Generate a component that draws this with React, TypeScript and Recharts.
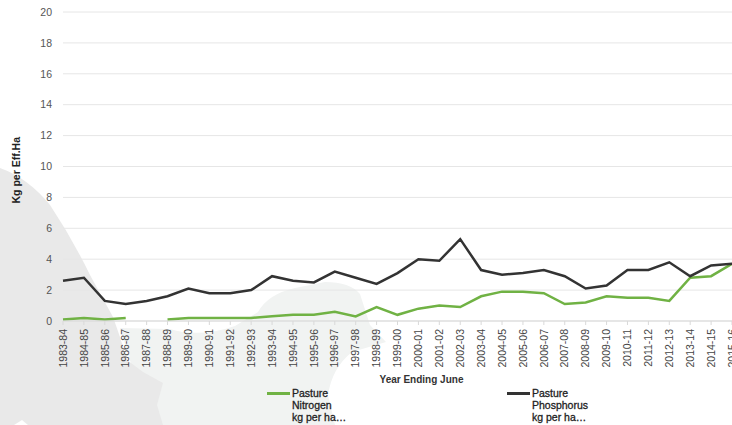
import React from 'react';
import { LineChart, Line, XAxis, YAxis, CartesianGrid, Legend } from 'recharts';

const YEARS = [
  '1983-84', '1984-85', '1985-86', '1986-87', '1987-88', '1988-89', '1989-90', '1990-91', '1991-92', '1992-93', '1993-94',
  '1994-95', '1995-96', '1996-97', '1997-98', '1998-99', '1999-00', '2000-01', '2001-02', '2002-03', '2003-04', '2004-05',
  '2005-06', '2006-07', '2007-08', '2008-09', '2009-10', '2010-11', '2011-12', '2012-13', '2013-14', '2014-15', '2015-16',
];
const NITROGEN = [
  0.1, 0.2, 0.1, 0.2, null, 0.1, 0.2, 0.2, 0.2, 0.2, 0.3, 0.4, 0.4, 0.6, 0.3, 0.9, 0.4, 0.8, 1.0, 0.9, 1.6, 1.9, 1.9, 1.8,
  1.1, 1.2, 1.6, 1.5, 1.5, 1.3, 2.8, 2.9, 3.7,
];
const PHOSPHORUS = [
  2.6, 2.8, 1.3, 1.1, 1.3, 1.6, 2.1, 1.8, 1.8, 2.0, 2.9, 2.6, 2.5, 3.2, 2.8, 2.4, 3.1, 4.0, 3.9, 5.3, 3.3, 3.0, 3.1, 3.3,
  2.9, 2.1, 2.3, 3.3, 3.3, 3.8, 2.9, 3.6, 3.7,
];
const Y_TICKS = [0, 2, 4, 6, 8, 10, 12, 14, 16, 18, 20];

const GREEN = '#70b244';
const DARK = '#333333';
const FONT = '"Liberation Sans", Arial, sans-serif';

const data = YEARS.map((year, i) => ({ year, nitrogen: NITROGEN[i], phosphorus: PHOSPHORUS[i] }));

const YearTick = ({ x, y, payload }: any) => (
  <g transform={`translate(${x},${y})`}>
    <text transform="rotate(-90)" textAnchor="end" dy={3.7} fill="#444" fontSize={10.5} fontFamily={FONT}>
      {payload.value}
    </text>
  </g>
);

const legendItem = (left: number, color: string, lines: string[]) => (
  <div key={lines[1]} style={{ position: 'absolute', left, top: 6 }}>
    <div style={{ position: 'absolute', left: 0, top: 5, width: 23, height: 3, background: color }} />
    <div style={{ position: 'absolute', left: 25, top: 0, fontSize: 10.5, lineHeight: '12px', color: '#222', whiteSpace: 'nowrap', WebkitTextStroke: '0.3px #222' }}>
      {lines.map((t) => (
        <div key={t}>{t}</div>
      ))}
    </div>
  </div>
);

const ChartLegend = () => (
  <div style={{ position: 'relative', width: 732, height: 44, fontFamily: FONT }}>
    {legendItem(267, GREEN, ['Pasture', 'Nitrogen', 'kg per ha…'])}
    {legendItem(507, DARK, ['Pasture', 'Phosphorus', 'kg per ha…'])}
  </div>
);

// faded map shapes sitting behind the chart
const Backdrop = () => (
  <svg width={732} height={425} style={{ position: 'absolute', left: 0, top: 0 }}>
    <path
      d="M120 328 L170 329 Q200 338 235 326 L258 312 Q268 294 295 288 L325 282 Q350 282 360 294 L370 325 L386 342 L352 352 Q332 368 328 395 L335 425 L150 425 Z"
      fill="#f1f3f2"
    />
    <path
      d="M0 168 Q28 178 50 205 Q72 238 90 275 L113 317 L120 337 L127 360 L143 372 L163 383 L157 405 L163 425 L28 425 L22 420 L14 425 L0 425 Z"
      fill="#e9e9e9"
    />
  </svg>
);

const App: React.FC = () => {
  return (
    <div style={{ position: 'absolute', left: 0, top: 0, width: 732, height: 425, overflow: 'hidden', background: '#fff', fontFamily: FONT }}>
      <Backdrop />
      <div style={{ position: 'absolute', left: 0, top: 0 }}>
        <LineChart width={740} height={425} data={data} margin={{ top: 12, right: 8, bottom: 0, left: 0 }}>
          <CartesianGrid vertical={false} stroke="#e6e6e6" strokeWidth={1} />
          <XAxis
            dataKey="year"
            interval={0}
            padding={{ left: 0, right: 0 }}
            scale="point"
            height={60}
            tick={<YearTick />}
            tickSize={4}
            tickMargin={4}
            stroke="#d9d9d9"
            label={{ value: 'Year Ending June', position: 'insideBottom', dx: 24, dy: 2, offset: 0, fontSize: 10, fontWeight: 700, fill: '#333', fontFamily: FONT }}
          />
          <YAxis
            width={63}
            domain={[0, 20]}
            ticks={Y_TICKS}
            axisLine={false}
            tickLine={false}
            tickMargin={5}
            tick={{ fill: '#555', fontSize: 10.5, fontFamily: FONT }}
            label={{ value: 'Kg per Eff.Ha', angle: -90, position: 'insideLeft', dx: 11, dy: 37, fontSize: 10.5, fontWeight: 700, fill: '#222', fontFamily: FONT }}
          />
          <Legend content={<ChartLegend />} verticalAlign="bottom" wrapperStyle={{ left: 0, bottom: 0, width: 732, height: 44 }} />
          <Line dataKey="nitrogen" stroke={GREEN} strokeWidth={2.5} dot={false} connectNulls={false} isAnimationActive={false} />
          <Line dataKey="phosphorus" stroke={DARK} strokeWidth={2.5} dot={false} isAnimationActive={false} />
        </LineChart>
      </div>
    </div>
  );
};

export default App;
